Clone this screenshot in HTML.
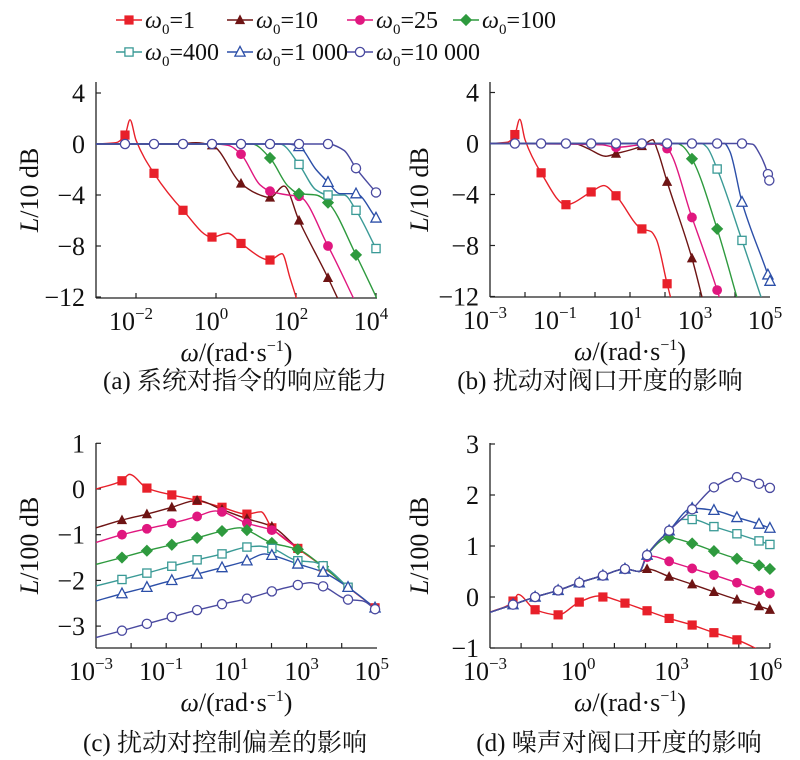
<!DOCTYPE html>
<html><head><meta charset="utf-8"><style>
body{margin:0;background:#fff}
svg{display:block}
text,tspan{font-family:"Liberation Serif","Noto Serif CJK SC",serif;fill:#111}
</style></head><body>
<svg id="s" width="800" height="760" xmlns="http://www.w3.org/2000/svg" font-family="Liberation Serif, Noto Serif CJK SC, serif">
<defs>
<clipPath id="ca"><rect x="96" y="60" width="281" height="238"/></clipPath>
<clipPath id="cb"><rect x="490" y="60" width="281" height="237"/></clipPath>
<clipPath id="cc"><rect x="96" y="430" width="282" height="218"/></clipPath>
<clipPath id="cd"><rect x="490" y="430" width="281" height="218"/></clipPath>
</defs>
</svg>
<script>
const S=document.getElementById('s');const NS='http://www.w3.org/2000/svg';
const FF='"Liberation Serif","Noto Serif CJK SC",serif';
function el(t,a,p){const e=document.createElementNS(NS,t);for(const k in a)e.setAttribute(k,a[k]);if(t=='text')e.style.fontFamily=FF;(p||S).appendChild(e);return e;}
const COL=['#e8202a','#6e1414','#e0177f','#2e9a3e','#3a9a96','#2c4fa8','#4a4aa0'];
const MK=['sq','tri','cir','dia','osq','otri','ocir'];
function marker(t,x,y,c,g){
 const r=4.6;
 if(t=='sq')el('rect',{x:x-r,y:y-r,width:2*r,height:2*r,fill:c},g);
 if(t=='osq')el('rect',{x:x-r+.5,y:y-r+.5,width:2*r-1,height:2*r-1,fill:'#fff',stroke:c,'stroke-width':1.3},g);
 if(t=='tri')el('polygon',{points:`${x},${y-r-1} ${x-r-.5},${y+r-.5} ${x+r+.5},${y+r-.5}`,fill:c},g);
 if(t=='otri')el('polygon',{points:`${x},${y-r-1} ${x-r-.5},${y+r-.5} ${x+r+.5},${y+r-.5}`,fill:'#fff',stroke:c,'stroke-width':1.3},g);
 if(t=='cir')el('circle',{cx:x,cy:y,r:r+.3,fill:c},g);
 if(t=='ocir')el('circle',{cx:x,cy:y,r:r,fill:'#fff',stroke:c,'stroke-width':1.3},g);
 if(t=='dia')el('polygon',{points:`${x},${y-r-1.5} ${x+r+1.5},${y} ${x},${y+r+1.5} ${x-r-1.5},${y}`,fill:c},g);
}
function path(pts){
 const n=pts.length;if(n<2)return '';
 const dx=[],m=[];for(let i=0;i<n-1;i++){dx.push(pts[i+1][0]-pts[i][0]);m.push((pts[i+1][1]-pts[i][1])/dx[i]);}
 const t=[m[0]];for(let i=1;i<n-1;i++){if(m[i-1]*m[i]<=0)t.push(0);else{const w1=2*dx[i]+dx[i-1],w2=dx[i]+2*dx[i-1];t.push((w1+w2)/(w1/m[i-1]+w2/m[i]));}}t.push(m[n-2]);
 let d=`M${pts[0][0]},${pts[0][1]}`;
 for(let i=0;i<n-1;i++){const h=dx[i]/3;d+=` C${pts[i][0]+h},${pts[i][1]+t[i]*h} ${pts[i+1][0]-h},${pts[i+1][1]-t[i+1]*h} ${pts[i+1][0]},${pts[i+1][1]}`;}
 return d;}
function panel(P){
 const X=l=>P.x0+(l-P.lmin)*P.pd, Y=v=>P.y0-v*P.pu;
 el('line',{x1:P.ax,y1:P.top,x2:P.ax,y2:P.bot,stroke:'#222','stroke-width':1.3});
 el('line',{x1:P.ax,y1:P.bot,x2:P.ar,y2:P.bot,stroke:'#222','stroke-width':1.3});
 P.yt.forEach(v=>{const y=Y(v);el('line',{x1:P.ax,y1:y,x2:P.ax+5,y2:y,stroke:'#222','stroke-width':1.2});
  const t=el('text',{x:P.ax-11,y:y+9,'text-anchor':'end','font-size':26});t.textContent=(v<0?'\u2212'+(-v):v);});
 P.xt.forEach(l=>{const x=X(l);el('line',{x1:x,y1:P.bot,x2:x,y2:P.bot-5,stroke:'#222','stroke-width':1.2});});
 P.xl.forEach(l=>{const x=X(l);const t=el('text',{x:x-5,y:P.bot+32,'text-anchor':'middle','font-size':26});
  t.textContent='10';const s=el('tspan',{dy:-11,'font-size':17},t);s.textContent=(l<0?'\u2212'+(-l):l);});
 const xt=el('text',{x:(P.ax+P.ar)/2,y:P.bot+63,'text-anchor':'middle','font-size':26});
 let a=el('tspan',{'font-style':'italic'},xt);a.textContent='\u03c9';a=el('tspan',{},xt);a.textContent='/(rad\u00b7s';
 a=el('tspan',{dy:-10,'font-size':16},xt);a.textContent='\u22121';a=el('tspan',{dy:10},xt);a.textContent=')';
 const yt=el('text',{x:0,y:0,'text-anchor':'middle','font-size':26,transform:`translate(${P.ylx},${(P.top+P.bot)/2}) rotate(-90)`});
 a=el('tspan',{'font-style':'italic'},yt);a.textContent='L';a=el('tspan',{},yt);a.textContent=P.yu;
 const cap=el('text',{x:P.capx,y:P.capy,'text-anchor':'middle','font-size':25});cap.textContent=P.cap;
 const g=el('g',{'clip-path':`url(#${P.clip})`});
 const gm=el('g',{});
 P.series.forEach((s,i)=>{
  const pts=s.line.map(p=>[X(p[0]),Y(p[1])]);
  el('path',{d:path(pts),fill:'none',stroke:COL[i],'stroke-width':1.4},g);
 });
 P.series.forEach((s,i)=>{(s.m||[]).forEach(p=>marker(MK[i],X(p[0]),Y(p[1]),COL[i],gm));});
}
function S2(line,mIdx){return {line:line,m:mIdx===undefined?line.filter(p=>p[2]).map(p=>[p[0],p[1]]):mIdx};}
panel({x0:96,lmin:-3,pd:40,y0:144,pu:12.75,ax:96,ar:377,top:82,bot:298,yt:[4,0,-4,-8,-12],xt:[-2,0,2,4],xl:[-2,0,2,4],
 ylx:38,yu:'/10 dB',cap:'(a) 系统对指令的响应能力',capx:245,capy:389,clip:'ca',
 series:[
 S2([[-3,0],[-2.5,0.1],[-2.275,0.7,1],[-2.15,1.9],[-2.0,0.3],[-1.55,-2.3,1],[-0.825,-5.2,1],[-0.1,-7.3,1],[0.3,-7.0],[0.625,-7.8,1],[1.35,-9.1,1],[1.65,-8.6],[1.85,-10.5],[2.05,-12.5]]),
 S2([[-3,0],[-1,0],[-0.5,0.1],[-0.1,-0.1,1],[0.625,-3.1,1],[1.1,-4.0],[1.35,-4.2,1],[1.7,-3.3],[2.075,-6.0,1],[2.8,-10.5,1],[3.1,-12.5]]),
 S2([[-3,0],[0,0],[0.3,-0.1],[0.625,-0.8,1],[1.1,-3.2],[1.35,-3.7,1],[1.8,-4.0],[2.075,-4.1,1],[2.8,-8.0,1],[3.5,-12.5]]),
 S2([[-3,0],[0.9,0],[1.35,-1.1,1],[1.8,-3.3],[2.075,-3.9,1],[2.5,-4.0],[2.8,-4.6,1],[3.5,-8.7,1],[4.05,-12.3]]),
 S2([[-3,0],[1.6,0],[2.075,-1.6,1],[2.5,-3.6],[2.8,-4.0,1],[3.2,-4.0],[3.5,-5.2,1],[4.0,-8.2,1]]),
 S2([[-3,0],[1.8,0],[2.075,-0.2,1],[2.5,-2.0],[2.8,-3.0,1],[3.1,-3.9],[3.5,-3.9,1],[4.0,-5.8,1]]),
 S2([[-3,0],[-2.275,0,1],[-1.55,0,1],[-0.825,0,1],[-0.1,0,1],[0.625,0,1],[1.35,0,1],[2.075,0,1],[2.8,0,1],[3.2,-0.5],[3.5,-1.9,1],[4.0,-3.8,1]]),
 ]});
panel({x0:490,lmin:-3,pd:35,y0:143.5,pu:12.75,ax:490,ar:770,top:82,bot:297,yt:[4,0,-4,-8,-12],xt:[-2,-1,0,1,2,3,4],xl:[-3,-1,1,3,5],
 ylx:428,yu:'/10 dB',cap:'(b) 扰动对阀口开度的影响',capx:600,capy:389,clip:'cb',
 series:[
 S2([[-3,0],[-2.5,0.1],[-2.29,0.7,1],[-2.15,1.9],[-2.0,0.3],[-1.54,-2.3,1],[-0.83,-4.8,1],[-0.11,-3.8,1],[0.25,-3.3],[0.6,-4.1,1],[1.34,-6.7,1],[1.6,-6.9],[1.75,-7.5],[2.06,-11,1],[2.2,-12.5]]),
 S2([[-3,0],[-0.6,0],[-0.2,-0.4],[0.3,-1.0],[0.6,-0.8,1],[1.34,-0.2,1],[1.65,0.3],[1.78,-0.5],[2.06,-3.0,1],[2.77,-9.0,1],[3.1,-12.5]]),
 S2([[-3,0],[0.2,-0.1],[0.6,-0.3,1],[1.34,-0.1],[1.8,-0.05],[2.06,-0.4,1],[2.77,-5.8,1],[3.49,-11.5,1],[3.6,-12.5]]),
 S2([[-3,0],[2.35,0],[2.5,-0.2],[2.77,-1.2,1],[3.49,-6.7,1],[4.1,-12.5]]),
 S2([[-3,0],[3.05,0],[3.2,-0.3],[3.49,-2.0,1],[4.2,-7.6,1],[4.8,-12.5]]),
 S2([[-3,0],[3.7,0],[3.85,-0.6],[4.2,-4.6,1],[4.94,-10.3,1],[5.0,-10.8,1]]),
 S2([[-3,0],[-2.29,0,1],[-1.54,0,1],[-0.83,0,1],[-0.11,0,1],[0.6,0,1],[1.34,0,1],[2.06,0,1],[2.77,0,1],[3.49,0,1],[4.2,0,1],[4.5,-0.05],[4.7,-0.8],[4.94,-2.4,1],[4.98,-2.9,1]]),
 ]});
const C=[-2.26,-1.55,-0.84,-0.12,0.59,1.3,2.01,2.75,3.47,4.18,4.95];
function cs(vals,extra){const l=[[-3,vals.start]];vals.m.forEach((v,i)=>{if(v!==null)l.push([C[i],v,1]);});(extra||[]).forEach(e=>l.push(e));l.sort((a,b)=>a[0]-b[0]);return S2(l);}
panel({x0:96,lmin:-3,pd:35.1,y0:489,pu:45.7,ax:96,ar:377,top:443,bot:648,yt:[1,0,-1,-2,-3],xt:[-2,-1,0,1,2,3,4],xl:[-3,-1,1,3,5],
 ylx:38,yu:'/100 dB',cap:'(c) 扰动对控制偏差的影响',capx:225,capy:751,clip:'cc',
 series:[
 cs({start:0,m:[0.18,0.02,-0.13,-0.25,-0.4,-0.55,-0.85,-1.3,-1.7,-2.15,-2.6]},[[-2.05,0.32],[1.7,-0.5]]),
 cs({start:-0.85,m:[-0.68,-0.55,-0.4,-0.25,-0.45,-0.65,-0.82,null,null,null,null]},[[2.75,-1.3]]),
 cs({start:-1.17,m:[-1.0,-0.87,-0.75,-0.6,-0.5,-0.75,-0.9,null,null,null,null]},[[2.75,-1.3],[0.4,-0.48]]),
 cs({start:-1.65,m:[-1.5,-1.35,-1.22,-1.07,-0.92,-0.9,-1.18,-1.32,-1.7,null,null]},[[1.1,-0.85],[2.5,-1.27],[4.18,-2.15]]),
 cs({start:-2.12,m:[-1.98,-1.84,-1.69,-1.55,-1.42,-1.27,-1.3,-1.57,-1.68,-2.15,null]},[[1.65,-1.25],[3.2,-1.6]]),
 cs({start:-2.45,m:[-2.29,-2.15,-2.0,-1.86,-1.72,-1.57,-1.45,-1.64,-1.82,-2.15,-2.6]},[[1.8,-1.42]]),
 cs({start:-3.25,m:[-3.1,-2.95,-2.8,-2.65,-2.52,-2.4,-2.24,-2.1,-2.13,-2.42,-2.63]},[[3.1,-2.05],[4.6,-2.45]]),
 ]});
const common=[[-3,-0.3],[-2.26,-0.15],[-1.55,0.0],[-0.81,0.13],[-0.13,0.28],[0.63,0.42],[1.34,0.55],[1.8,0.5]];
function ds(tail,mk){const l=common.map(p=>[p[0],p[1]]).concat(tail);return {line:l,m:mk};}
panel({x0:490,lmin:-3,pd:31.1,y0:597,pu:51,ax:490,ar:770,top:443,bot:648,yt:[3,2,1,0,-1],xt:[-2,-1,0,1,2,3,4,5,6],xl:[-3,0,3,6],
 ylx:428,yu:'/100 dB',cap:'(d) 噪声对阀口开度的影响',capx:619,capy:751,clip:'cd',
 series:[
 {line:[[-3,-0.3],[-2.26,-0.1],[-2.1,0.05],[-1.55,-0.25],[-0.81,-0.35],[-0.13,-0.1],[0.5,0.02],[1.34,-0.12],[2.05,-0.27],[2.76,-0.42],[3.5,-0.55],[4.2,-0.7],[4.94,-0.84],[5.7,-1.05]],
  m:[[-2.26,-0.08],[-1.55,-0.25],[-0.81,-0.35],[-0.13,-0.1],[0.63,0.0],[1.34,-0.12],[2.05,-0.27],[2.76,-0.42],[3.5,-0.55],[4.2,-0.7],[4.94,-0.84]]},
 ds([[2.05,0.55],[2.76,0.4],[3.5,0.25],[4.2,0.1],[4.94,-0.05],[5.65,-0.18],[6.0,-0.25]],[[2.05,0.55],[2.76,0.4],[3.5,0.25],[4.2,0.1],[4.94,-0.05],[5.65,-0.18],[6.0,-0.25]]),
 ds([[2.05,0.8],[2.2,0.8],[2.76,0.7],[3.5,0.56],[4.2,0.43],[4.94,0.28],[5.65,0.13],[6.0,0.07]],[[2.05,0.78],[2.76,0.7],[3.5,0.56],[4.2,0.43],[4.94,0.28],[5.65,0.13],[6.0,0.07]]),
 ds([[2.05,0.82],[2.76,1.16],[3.5,1.05],[4.2,0.9],[4.94,0.75],[5.65,0.62],[6.0,0.55]],[[2.76,1.16],[3.5,1.05],[4.2,0.9],[4.94,0.75],[5.65,0.62],[6.0,0.55]]),
 ds([[2.05,0.82],[2.76,1.3],[3.2,1.52],[3.5,1.52],[4.2,1.38],[4.94,1.24],[5.65,1.1],[6.0,1.03]],[[3.5,1.52],[4.2,1.38],[4.94,1.24],[5.65,1.1],[6.0,1.03]]),
 ds([[2.05,0.82],[2.76,1.3],[3.5,1.74],[4.2,1.7],[4.94,1.56],[5.65,1.43],[6.0,1.35]],[[-2.26,-0.15],[-1.55,0],[-0.81,0.13],[-0.13,0.28],[0.63,0.42],[1.34,0.55],[2.05,0.82],[2.76,1.3],[3.5,1.74],[4.2,1.7],[4.94,1.56],[5.65,1.43],[6.0,1.35]]),
 ds([[2.05,0.82],[2.76,1.3],[3.5,1.72],[4.2,2.15],[4.94,2.35],[5.65,2.22],[6.0,2.14]],[[-2.26,-0.15],[-1.55,0],[-0.81,0.13],[-0.13,0.28],[0.63,0.42],[1.34,0.55],[2.05,0.82],[2.76,1.3],[3.5,1.72],[4.2,2.15],[4.94,2.35],[5.65,2.22],[6.0,2.14]]),
 ]});
const LG=[['1',116,20],['10',227,20],['25',347,20],['100',453,20],['400',116,52],['1 000',227,52],['10 000',347,52]];
LG.forEach((e,i)=>{const [lab,x,y]=e;el('line',{x1:x,y1:y,x2:x+26,y2:y,stroke:COL[i],'stroke-width':1.4});
 marker(MK[i],x+13,y,COL[i]);
 const t=el('text',{x:x+29,y:y+8,'font-size':24});let a=el('tspan',{'font-style':'italic'},t);a.textContent='\u03c9';
 a=el('tspan',{dy:6,'font-size':15},t);a.textContent='0';a=el('tspan',{dy:-6},t);a.textContent='='+lab;});
</script>
</body></html>
